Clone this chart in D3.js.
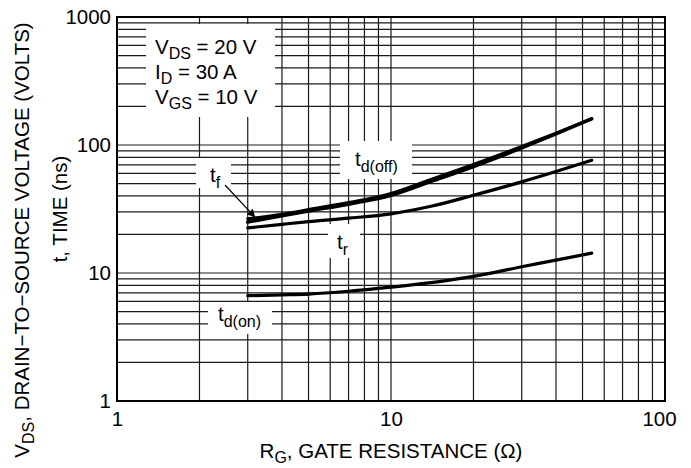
<!DOCTYPE html>
<html>
<head>
<meta charset="utf-8">
<script src="https://cdn.jsdelivr.net/npm/d3@7"></script>
<style>
  html, body { margin: 0; padding: 0; background: #fff; }
  svg { display: block; }
  text { font-family: "Liberation Sans", Arial, Helvetica, sans-serif; fill: #000; }
</style>
</head>
<body>
<svg id="chart" width="691" height="468"></svg>
<script>
// Switching times versus gate resistance (log–log)
const rg      = [3, 4, 5, 7, 10, 14, 20, 30, 40, 54];
const tdOff   = [25.0, 28.0, 30.5, 34.5, 40.5, 52.0, 68.0, 95.0, 122, 160];
const tFall   = [26.5, 28.8, 31.3, 35.5, 41.8, 53.8, 70.5, 97.5, 124, 161];
const tRise   = [22.5, 24.0, 25.2, 26.8, 29.0, 33.2, 40.5, 51.5, 62.0, 76.0];
const tdOn    = [6.65, 6.75, 6.85, 7.2, 7.75, 8.4, 9.4, 11.2, 12.6, 14.3];

const xTicks  = [1, 10, 100];
const yTicks  = [1, 10, 100, 1000];
const conditions = [
  { main: "V", sub: "DS", rest: " = 20 V" },
  { main: "I", sub: "D",  rest: " = 30 A" },
  { main: "V", sub: "GS", rest: " = 10 V" }
];

const FS = 20.5, SUB = 16;

const svg = d3.select("#chart");
const x = d3.scaleLog().domain([1, 100]).range([117, 665]);
const y = d3.scaleLog().domain([1, 1000]).range([401, 17]);

// grid: decades plus 2..9 subdivisions
const xGrid = [], yGrid = [];
for (let d = 1; d < 100; d *= 10) for (let k = 1; k <= 9; k++) xGrid.push(d * k);
for (let d = 1; d < 1000; d *= 10) for (let k = 1; k <= 9; k++) yGrid.push(d * k);

const grid = svg.append("g").attr("stroke", "#1a1a1a").attr("stroke-width", 1.2);
grid.selectAll("line.v").data(xGrid.slice(1)).join("line")
  .attr("x1", d => x(d)).attr("x2", d => x(d))
  .attr("y1", y(1)).attr("y2", y(1000));
grid.selectAll("line.h").data(yGrid.slice(1)).join("line")
  .attr("x1", x(1)).attr("x2", x(100))
  .attr("y1", d => y(d)).attr("y2", d => y(d));

// white panels behind the condition block and curve labels
const panels = [
  [146, 24, 129, 93],   // conditions
  [196, 158, 35, 30],   // t_f
  [340, 141, 72, 38],   // t_d(off)
  [328, 224, 32, 34],   // t_r
  [208, 302, 64, 32]    // t_d(on)
];
svg.append("g").selectAll("rect").data(panels).join("rect")
  .attr("x", d => d[0]).attr("y", d => d[1])
  .attr("width", d => d[2]).attr("height", d => d[3])
  .attr("fill", "#fff");

// frame
svg.append("rect")
  .attr("x", x(1)).attr("y", y(1000))
  .attr("width", x(100) - x(1)).attr("height", y(1) - y(1000))
  .attr("fill", "none").attr("stroke", "#000").attr("stroke-width", 2);

// tick values
const xAxis = d3.axisBottom(x).tickValues(xTicks).tickFormat(d3.format("d")).tickSize(0).tickPadding(10);
svg.append("g").attr("transform", `translate(0,${y(1)})`).call(xAxis)
  .call(g => g.select(".domain").remove())
  .selectAll("text").attr("font-size", FS).attr("font-family", null).attr("fill", "#000")
  .attr("dx", d => d === 100 ? -6 : 0);
const yAxis = d3.axisLeft(y).tickValues(yTicks).tickFormat(d3.format("d")).tickSize(0).tickPadding(6);
svg.append("g").attr("transform", `translate(${x(1)},0)`).call(yAxis)
  .call(g => g.select(".domain").remove())
  .selectAll("text").attr("font-size", FS).attr("font-family", null).attr("fill", "#000");

// curves
const line = d3.line().x(d => x(d[0])).y(d => y(d[1])).curve(d3.curveMonotoneX);
const series = [
  { vals: tRise, w: 3.2 },
  { vals: tdOn,  w: 3.2 },
  { vals: tdOff, w: 3.6 },
  { vals: tFall, w: 3.0 }
];
svg.append("g").selectAll("path").data(series).join("path")
  .attr("d", s => line(rg.map((r, i) => [r, s.vals[i]])))
  .attr("fill", "none").attr("stroke", "#000")
  .attr("stroke-width", s => s.w).attr("stroke-linecap", "round");

// condition text
const cond = svg.append("g").attr("font-size", FS);
conditions.forEach((c, i) => {
  const t = cond.append("text").attr("x", 155).attr("y", 54 + i * 25);
  t.append("tspan").text(c.main);
  t.append("tspan").attr("dy", 5).attr("font-size", SUB).text(c.sub);
  t.append("tspan").attr("dy", -5).text(c.rest);
});

// curve labels
function curveLabel(px, py, sub) {
  const t = svg.append("text").attr("x", px).attr("y", py).attr("font-size", FS);
  t.append("tspan").text("t");
  t.append("tspan").attr("dy", 6).attr("font-size", SUB).text(sub);
}
curveLabel(210, 182, "f");
curveLabel(355, 166, "d(off)");
curveLabel(337, 249, "r");
curveLabel(218, 321, "d(on)");

// pointer from t_f to its curve
svg.append("defs").append("marker")
  .attr("id", "head").attr("viewBox", "0 0 10 10").attr("refX", 9).attr("refY", 5)
  .attr("markerWidth", 10).attr("markerHeight", 8).attr("markerUnits", "userSpaceOnUse")
  .attr("orient", "auto")
  .append("path").attr("d", "M0,0 L10,5 L0,10 Z").attr("fill", "#000");
svg.append("line")
  .attr("x1", 225).attr("y1", 185).attr("x2", x(3) + 7).attr("y2", y(26.5) - 2)
  .attr("stroke", "#000").attr("stroke-width", 1.2).attr("marker-end", "url(#head)");

// axis titles
const xt = svg.append("text").attr("x", 391).attr("y", 458)
  .attr("text-anchor", "middle").attr("font-size", FS);
xt.append("tspan").text("R");
xt.append("tspan").attr("dy", 5).attr("font-size", SUB).text("G");
xt.append("tspan").attr("dy", -5).text(", GATE RESISTANCE (Ω)");

svg.append("text")
  .attr("transform", "translate(67,209) rotate(-90)")
  .attr("text-anchor", "middle").attr("font-size", FS)
  .text("t, TIME (ns)");

const vt = svg.append("text")
  .attr("transform", "translate(29,240) rotate(-90)")
  .attr("text-anchor", "middle").attr("font-size", FS);
vt.append("tspan").text("V");
vt.append("tspan").attr("dy", 5).attr("font-size", SUB).text("DS");
vt.append("tspan").attr("dy", -5).text(", DRAIN−TO−SOURCE VOLTAGE (VOLTS)");
</script>
</body>
</html>
